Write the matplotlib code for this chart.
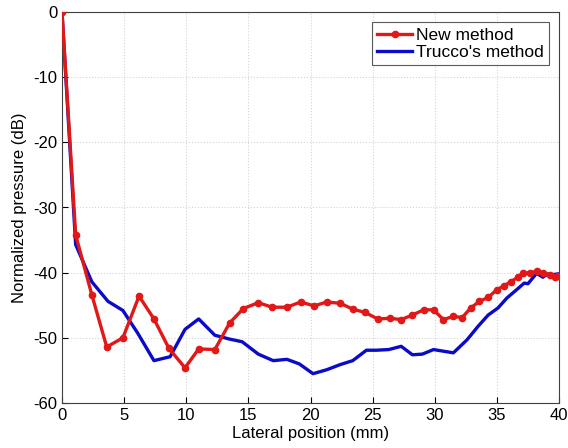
import matplotlib.pyplot as plt

plt.rcParams['font.family'] = ['Liberation Sans', 'DejaVu Sans']
plt.rcParams['axes.unicode_minus'] = False

# New method (red, with markers)
new_x = [0, 1.1, 2.4, 3.6, 4.9, 6.2, 7.4, 8.6, 9.9, 11.0, 12.3, 13.5, 14.6,
         15.8, 16.9, 18.1, 19.2, 20.3, 21.3, 22.4, 23.4, 24.4, 25.4, 26.4,
         27.3, 28.2, 29.1, 29.9, 30.7, 31.5, 32.2, 32.9, 33.6, 34.3, 35.0,
         35.6, 36.1, 36.7, 37.1, 37.7, 38.2, 38.7, 39.3, 39.7, 39.9]
new_y = [0, -34.2, -43.4, -51.4, -50.0, -43.6, -47.1, -51.6, -54.6, -51.7,
         -51.8, -47.7, -45.5, -44.6, -45.3, -45.3, -44.5, -45.1, -44.5, -44.7,
         -45.6, -46.1, -47.1, -47.0, -47.2, -46.5, -45.7, -45.7, -47.2, -46.7,
         -46.9, -45.4, -44.4, -43.8, -42.6, -42.0, -41.4, -40.7, -40.1, -40.0,
         -39.8, -40.1, -40.3, -40.6, -40.5]

# Trucco's method (blue)
tr_x = [0, 1.1, 2.4, 3.7, 4.9, 6.1, 7.4, 8.7, 9.9, 11.0, 12.3, 13.5, 14.5,
        15.8, 17.0, 18.1, 19.1, 20.2, 21.3, 22.4, 23.4, 24.5, 25.3, 26.3,
        27.3, 28.2, 29.0, 29.9, 31.5, 32.6, 33.5, 34.3, 35.1, 35.8, 36.6,
        37.2, 37.5, 38.2, 38.7, 39.1, 39.5, 39.9]
tr_y = [0, -35.7, -41.4, -44.4, -45.8, -49.3, -53.5, -52.9, -48.7, -47.1,
        -49.6, -50.2, -50.6, -52.5, -53.5, -53.3, -54.0, -55.5, -54.9, -54.1,
        -53.5, -51.9, -51.9, -51.8, -51.3, -52.6, -52.5, -51.8, -52.3, -50.3,
        -48.2, -46.5, -45.4, -43.9, -42.6, -41.6, -41.7, -40.1, -40.7, -40.2,
        -40.3, -40.2]

fig = plt.figure(figsize=(5.68, 4.48), dpi=100)
ax = fig.add_axes([62 / 568, 1 - 403 / 448, 497 / 568, 391 / 448])

ax.plot(tr_x, tr_y, color='#0a0ac8', lw=2.4, label="Trucco's method", zorder=2)
ax.plot(new_x, new_y, color='#e01818', lw=2.4, marker='o', ms=4.5,
        label='New method', zorder=3)

ax.set_xlim(0, 40)
ax.set_ylim(-60, 0)
ax.set_xticks(range(0, 41, 5))
ax.set_yticks(range(-60, 1, 10))
ax.tick_params(direction='in', labelsize=12, length=4)
ax.grid(True, linestyle=':', color='#d4d4d4', linewidth=0.8)
for s in ax.spines.values():
    s.set_color('#404040')
ax.set_xlabel('Lateral position (mm)', fontsize=12, labelpad=2)
ax.set_ylabel('Normalized pressure (dB)', fontsize=12, labelpad=4)

h, l = ax.get_legend_handles_labels()
leg = ax.legend(h[::-1], l[::-1], loc='upper right', fontsize=12.5,
                fancybox=False, edgecolor='#303030', handlelength=2.0,
                borderpad=0.3, labelspacing=0.1, handletextpad=0.2,
                borderaxespad=0.6)
leg.get_frame().set_linewidth(0.8)

fig.savefig('out.png', dpi=100)
